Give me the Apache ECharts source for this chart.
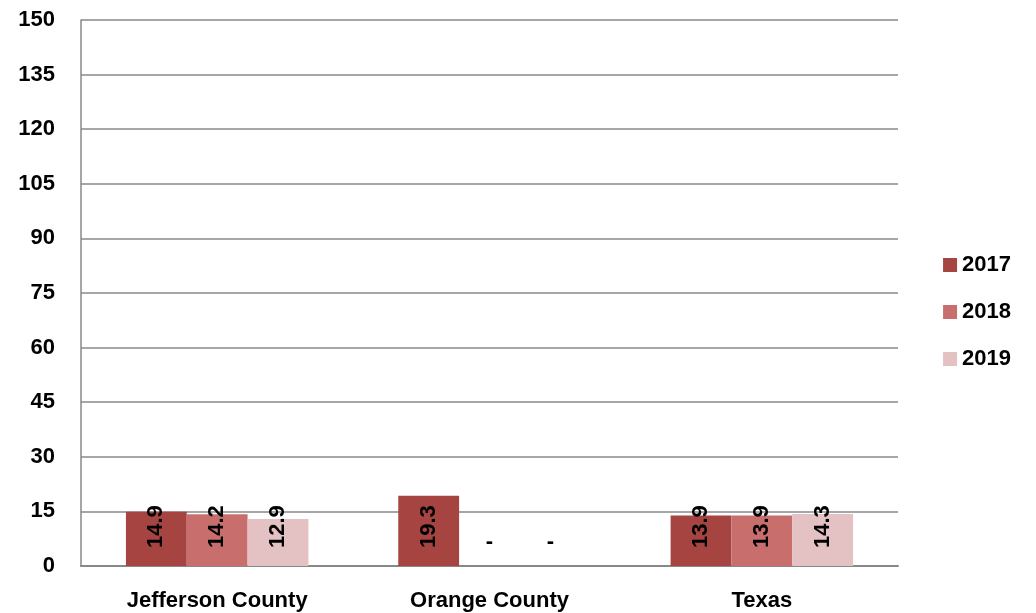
<!DOCTYPE html>
<html><head><meta charset="utf-8">
<script src="https://cdn.jsdelivr.net/npm/echarts@6/dist/echarts.min.js"></script>
<style>html,body{margin:0;padding:0;background:#fff}#c{width:1036px;height:613px}</style>
</head><body><div id="c"></div>
<script>
const categories = ['Jefferson County', 'Orange County', 'Texas'];
const years = ['2017', '2018', '2019'];
const v2017 = [14.9, 19.3, 13.9];
const v2018 = [14.2, null, 13.9];
const v2019 = [12.9, null, 14.3];
const yTicks = [0, 15, 30, 45, 60, 75, 90, 105, 120, 135, 150];
const colors = ['#a54441', '#c86f6d', '#e4c1c3'];

const FONT = 'Liberation Sans';
function buildData(arr) {
  return arr.map(v => {
    if (v === null) {
      return {
        value: 0,
        itemStyle: { color: 'rgba(0,0,0,0)' },
        label: { show: true, rotate: 0, formatter: '-', position: 'insideBottom', distance: 24, align: 'center', verticalAlign: 'middle' }
      };
    }
    return { value: v };
  });
}
const seriesVals = [v2017, v2018, v2019];
const chart = echarts.init(document.getElementById('c'));
chart.setOption({
  animation: false,
  color: colors,
  grid: { left: 81, top: 20, right: 138, bottom: 47 },
  legend: {
    orient: 'vertical', right: 20, top: 249,
    itemWidth: 14, itemHeight: 14, itemGap: 25,
    icon: 'rect',
    textStyle: { fontFamily: FONT, fontWeight: 'bold', fontSize: 22, color: '#000' },
    data: years
  },
  xAxis: {
    type: 'category', data: categories,
    axisLine: { lineStyle: { color: '#888', width: 2 } },
    axisTick: { show: false },
    axisLabel: { fontFamily: FONT, fontWeight: 'bold', fontSize: 22, color: '#000', margin: 24 }
  },
  yAxis: {
    type: 'value', min: yTicks[0], max: yTicks[yTicks.length - 1], interval: 15,
    axisLine: { show: true, lineStyle: { color: '#888', width: 1.5 } },
    axisTick: { show: false },
    splitLine: { lineStyle: { color: '#888', width: 1.5 } },
    axisLabel: { fontFamily: FONT, fontWeight: 'bold', fontSize: 22, color: '#000', margin: 26 }
  },
  series: years.map((y, i) => ({
    name: y, type: 'bar', data: buildData(seriesVals[i]),
    barGap: '0%', barCategoryGap: '33%',
    itemStyle: { color: colors[i] },
    label: {
      show: true, position: 'insideBottom', rotate: 90, distance: 18,
      align: 'left', verticalAlign: 'middle',
      fontFamily: FONT, fontWeight: 'bold', fontSize: 22, color: '#000',
      formatter: p => p.value.toFixed(1)
    }
  }))
});
</script></body></html>
